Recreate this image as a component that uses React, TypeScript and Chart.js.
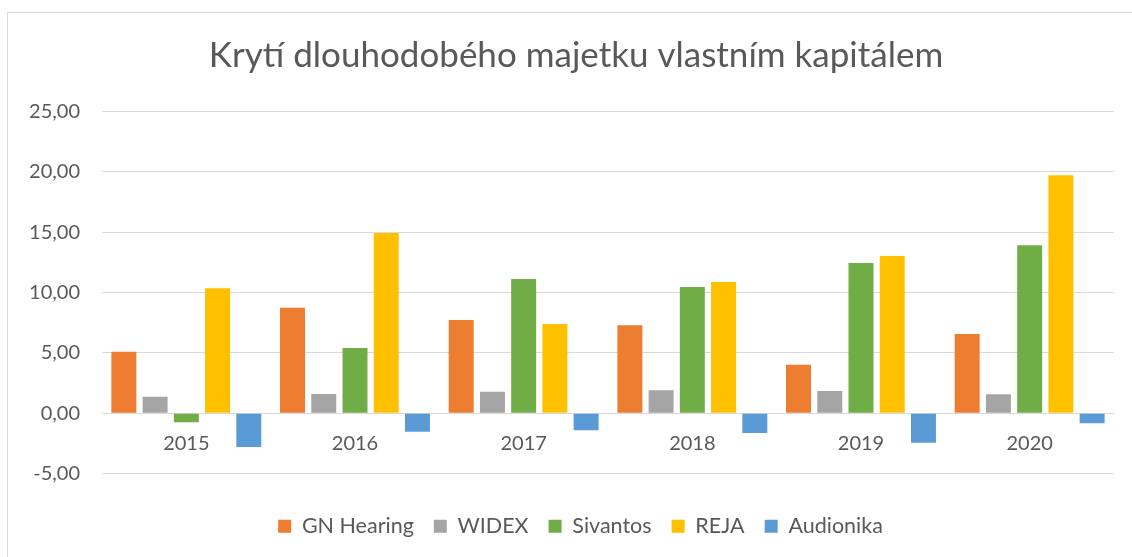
import React, { useEffect, useRef } from "react";
import { Chart, registerables } from "chart.js";

Chart.register(...registerables);

const categories = ["2015", "2016", "2017", "2018", "2019", "2020"];
const gnHearing = [5.1, 8.74, 7.72, 7.28, 4.02, 6.56];
const widex = [1.37, 1.6, 1.79, 1.9, 1.85, 1.57];
const sivantos = [-0.75, 5.41, 11.12, 10.46, 12.44, 13.91];
const reja = [10.35, 14.93, 7.39, 10.87, 13.02, 19.7];
const audionika = [-2.79, -1.52, -1.41, -1.63, -2.43, -0.83];
const seriesNames = ["GN Hearing", "WIDEX", "Sivantos", "REJA", "Audionika"];
const seriesColors = ["#ED7D31", "#A5A5A5", "#70AD47", "#FFC000", "#5B9BD5"];
const titleText = "Krytí dlouhodobého majetku vlastním kapitálem";

const FONT = "Lato, 'Open Sans', sans-serif";
const TEXT = "#595959";

// shifts the centred title and legend slightly to the right, as in the reference
const shiftPlugin = {
  id: "shiftBoxes",
  afterLayout(chart: any) {
    if (chart.legend) {
      chart.legend.left += 11.5;
      chart.legend.right += 11.5;
    }
    if (chart.titleBlock) {
      chart.titleBlock.left += 7;
      chart.titleBlock.right += 7;
    }
  },
};

export default function App() {
  const ref = useRef<HTMLCanvasElement | null>(null);
  useEffect(() => {
    if (!ref.current) return;
    const values = [gnHearing, widex, sivantos, reja, audionika];
    const chart = new Chart(ref.current, {
      type: "bar",
      data: {
        labels: categories,
        datasets: values.map((v, i) => ({
          label: seriesNames[i],
          data: v,
          backgroundColor: seriesColors[i],
          borderWidth: 0,
          categoryPercentage: 0.926,
          barPercentage: 0.8,
        })),
      },
      plugins: [shiftPlugin],
      options: {
        responsive: false,
        animation: false,
        layout: { padding: { left: 24, right: 18, top: 0, bottom: 10 } },
        plugins: {
          title: {
            display: true,
            text: titleText,
            color: TEXT,
            font: { family: FONT, size: 35, weight: "normal", lineHeight: 1.2 },
            padding: { top: 35.2, bottom: 34.1 },
          },
          legend: {
            position: "bottom",
            title: {
              display: true,
              text: "",
              font: { size: 1, lineHeight: 1 },
              padding: { top: 20.8, bottom: 0 },
            },
            labels: {
              color: TEXT,
              font: { family: FONT, size: 21.5 },
              boxWidth: 13,
              boxHeight: 13,
              padding: 20,
            },
          },
          tooltip: { enabled: false },
        },
        scales: {
          x: {
            position: { y: 0 },
            grid: { display: false },
            border: { display: false },
            ticks: { color: TEXT, font: { family: FONT, size: 20 }, padding: 10 },
          },
          y: {
            min: -5,
            max: 25,
            ticks: {
              stepSize: 5,
              color: TEXT,
              font: { family: FONT, size: 20 },
              padding: 22,
              callback: (v: any) => Number(v).toFixed(2).replace(".", ","),
            },
            grid: { color: "#D9D9D9", lineWidth: 1, drawTicks: false },
            border: { display: false },
            afterFit: (s: any) => {
              s.width = 78;
            },
          },
        },
      },
    });
    return () => chart.destroy();
  }, []);
  return (
    <div style={{ position: "fixed", left: 0, top: 0, width: 1132, height: 557, background: "#fff" }}>
      <div
        style={{
          position: "absolute",
          left: 7,
          top: 12,
          width: 1200,
          height: 600,
          border: "1px solid #D9D9D9",
          boxSizing: "border-box",
        }}
      />
      <canvas ref={ref} width={1132} height={557} style={{ position: "absolute", left: 0, top: 0, display: "block" }} />
    </div>
  );
}
